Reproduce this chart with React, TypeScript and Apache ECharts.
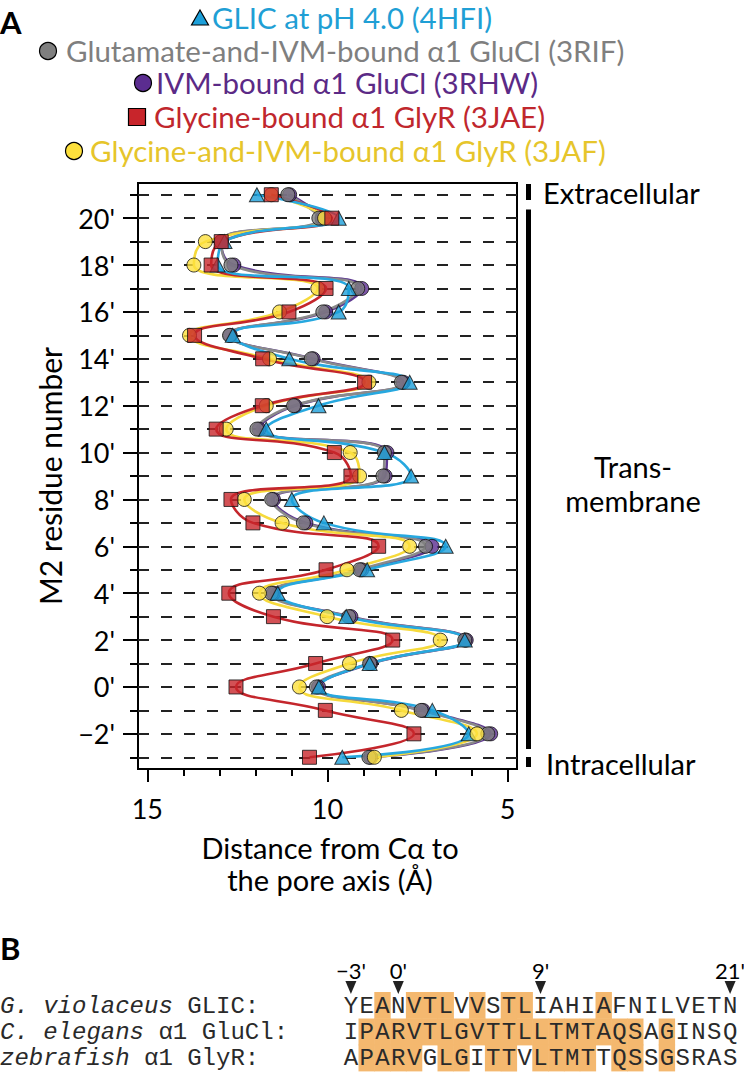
import React, { useEffect, useRef } from 'react';
import * as echarts from 'echarts';

// ---------- data ----------
const residues = [-3, -2, -1, 0, 1, 2, 3, 4, 5, 6, 7, 8, 9, 10, 11, 12, 13, 14, 15, 16, 17, 18, 19, 20, 21];
// distance from C-alpha to pore axis (Å), residue order -3' .. 21'
const glic4HFI = [9.59, 6.08, 7.09, 10.24, 8.83, 6.19, 9.48, 11.38, 8.9, 6.72, 10.1, 10.99, 7.68, 8.42, 11.7, 10.25, 7.72, 11.06, 12.63, 9.69, 9.41, 13.05, 12.86, 9.69, 11.96];
const glucl3RIF = [8.85, 5.55, 7.4, 10.31, 8.83, 6.19, 9.41, 11.56, 9.11, 7.28, 10.67, 11.55, 8.46, 8.42, 11.96, 10.94, 7.95, 10.45, 12.72, 10.13, 9.16, 12.68, 12.95, 10.24, 11.1];
const glucl3RHW = [8.8, 5.47, 7.35, 10.25, 8.8, 6.15, 9.35, 11.5, 9.05, 7.1, 10.6, 11.5, 8.4, 8.35, 11.9, 10.9, 7.9, 10.4, 12.7, 10.05, 9.05, 12.6, 12.95, 10.15, 11.05];
const glyr3JAE = [10.5, 7.6, 10.06, 12.54, 10.33, 8.19, 11.5, 12.74, 10.04, 8.58, 12.07, 12.68, 9.35, 9.81, 13.09, 11.81, 8.97, 11.8, 13.69, 11.07, 10.04, 13.23, 12.95, 9.88, 11.56];
const glyr3JAF = [8.7, 5.85, 7.95, 10.78, 9.39, 6.87, 10.01, 11.89, 9.46, 7.72, 11.26, 12.31, 9.11, 9.37, 12.81, 11.7, 8.85, 11.61, 13.83, 11.33, 10.27, 13.71, 13.39, 10.08, 11.56];

const xMajorTicks = [5, 10, 15];
const xMinorTicks = [5, 6, 7, 8, 9, 10, 11, 12, 13, 14, 15];
const yLabelTicks = [-2, 0, 2, 4, 6, 8, 10, 12, 14, 16, 18, 20];

// panel B
const seqNames = [
  { italic: 'G. violaceus', rest: ' GLIC:' },
  { italic: 'C. elegans', rest: ' \u03b11 GluCl:' },
  { italic: 'zebrafish', rest: ' \u03b11 GlyR:' },
];
const sequences = ['YEANVTLVVSTLIAHIAFNILVETN', 'IPARVTLGVTTLLTMTAQSAGINSQ', 'APARVGLGITTVLTMTTQSSGSRAS'];
const highlighted = [
  [2, 4, 5, 6, 8, 10, 11, 16],
  [1, 2, 3, 4, 5, 6, 7, 8, 9, 10, 11, 12, 13, 14, 15, 16, 17, 18, 20],
  [1, 2, 3, 4, 6, 7, 9, 10, 12, 13, 14, 15, 17, 18, 20],
];
const markerLabels = ['\u22123\'', '0\'', '9\'', '21\''];
const markerIndex = [0, 3, 12, 24];

// ---------- styling ----------
const SANS = 'Lato, "Open Sans", sans-serif';
const MONO = '"Liberation Mono", "DejaVu Sans Mono", monospace';

type Def = { name: string; values: number[]; symbol: string; fill: string; line: string; text: string };
const defs: Record<string, Def> = {
  glic: { name: 'GLIC at pH 4.0 (4HFI)', values: glic4HFI, symbol: 'triangle', fill: '#1c9fd9', line: '#27a8df', text: '#1f9fd5' },
  rif: { name: 'Glutamate-and-IVM-bound \u03b11 GluCl (3RIF)', values: glucl3RIF, symbol: 'circle', fill: '#7f7f7f', line: '#8a8a8a', text: '#7f7f7f' },
  rhw: { name: 'IVM-bound \u03b11 GluCl (3RHW)', values: glucl3RHW, symbol: 'circle', fill: '#5b2d90', line: '#5e3891', text: '#5b2a86' },
  jae: { name: 'Glycine-bound \u03b11 GlyR (3JAE)', values: glyr3JAE, symbol: 'rect', fill: '#c8252b', line: '#c4262c', text: '#c0272d' },
  jaf: { name: 'Glycine-and-IVM-bound \u03b11 GlyR (3JAF)', values: glyr3JAF, symbol: 'circle', fill: '#fde03c', line: '#f6da3c', text: '#e6c52b' },
};
const lineOrder = ['rhw', 'rif', 'jaf', 'jae', 'glic'];
const markerOrder = ['rhw', 'rif', 'glic', 'jaf', 'jae'];
const legendOrder = ['glic', 'rif', 'rhw', 'jae', 'jaf'];
const legendRows = [
  { y: 17, mx: 200, tx: 212 },
  { y: 50, mx: 48, tx: 66 },
  { y: 82, mx: 143, tx: 156 },
  { y: 116, mx: 137, tx: 154 },
  { y: 150, mx: 74, tx: 90 },
];

function legendMarker(symbol: string, cx: number, cy: number, fill: string) {
  const s = 17;
  const style = { fill, stroke: '#000', lineWidth: 1.2 };
  if (symbol === 'triangle') {
    return { type: 'polygon', shape: { points: [[cx, cy - 8], [cx + 8.5, cy + 7], [cx - 8.5, cy + 7]] }, style };
  }
  if (symbol === 'rect') {
    return { type: 'rect', shape: { x: cx - s / 2, y: cy - s / 2, width: s, height: s }, style };
  }
  return { type: 'circle', shape: { cx, cy, r: s / 2 }, style };
}

function buildOption() {
  const series: any[] = [];
  lineOrder.forEach((k, idx) => {
    const d = defs[k];
    const s: any = {
      type: 'line',
      name: d.name + ' line',
      data: residues.map((r, i) => [d.values[i], r]),
      smooth: 0.5,
      showSymbol: false,
      silent: true,
      lineStyle: { color: d.line, width: 2.6 },
      z: 2,
    };
    if (idx === 0) {
      s.markLine = {
        silent: true,
        symbol: ['none', 'none'],
        label: { show: false },
        lineStyle: { type: [11, 12], color: '#222', width: 1.8 },
        data: residues.map((r) => ({ yAxis: r })),
        z: 1,
      };
    }
    series.push(s);
  });
  markerOrder.forEach((k) => {
    const d = defs[k];
    series.push({
      type: 'scatter',
      name: d.name,
      data: residues.map((r, i) => [d.values[i], r]),
      symbol: d.symbol,
      symbolSize: d.symbol === 'triangle' ? [15, 14] : 14,
      itemStyle: { color: d.fill, borderColor: '#111', borderWidth: 1 },
      z: 3,
    });
  });

  const graphic: any[] = [];
  // panel letters
  graphic.push({ type: 'text', x: 0, y: 22, style: { text: 'A', font: `bold 31px ${SANS}`, fill: '#000', textVerticalAlign: 'middle' } });
  graphic.push({ type: 'text', x: 0, y: 948, style: { text: 'B', font: `bold 31px ${SANS}`, fill: '#000', textVerticalAlign: 'middle' } });

  // legend
  legendOrder.forEach((k, i) => {
    const d = defs[k];
    const row = legendRows[i];
    graphic.push(legendMarker(d.symbol, row.mx, row.y + 1, d.fill));
    graphic.push({ type: 'text', x: row.tx, y: row.y, style: { text: d.name, font: `29.5px ${SANS}`, fill: d.text, textVerticalAlign: 'middle', textAlign: 'left' } });
  });

  // axis titles
  graphic.push({ type: 'text', x: 50, y: 476, rotation: Math.PI / 2, style: { text: 'M2 residue number', font: `30px ${SANS}`, fill: '#000', textAlign: 'center', textVerticalAlign: 'middle' } });
  graphic.push({ type: 'text', x: 330, y: 847, style: { text: 'Distance from C\u03b1 to', font: `29px ${SANS}`, fill: '#000', textAlign: 'center', textVerticalAlign: 'middle' } });
  graphic.push({ type: 'text', x: 330, y: 879, style: { text: 'the pore axis (\u00c5)', font: `29px ${SANS}`, fill: '#000', textAlign: 'center', textVerticalAlign: 'middle' } });

  // membrane annotation
  graphic.push({ type: 'rect', shape: { x: 526, y: 184, width: 5, height: 16 }, style: { fill: '#000' } });
  graphic.push({ type: 'rect', shape: { x: 526, y: 209.5, width: 5, height: 539.5 }, style: { fill: '#000' } });
  graphic.push({ type: 'rect', shape: { x: 526, y: 757, width: 5, height: 10 }, style: { fill: '#000' } });
  graphic.push({ type: 'text', x: 543, y: 192, style: { text: 'Extracellular', font: `29px ${SANS}`, fill: '#000', textVerticalAlign: 'middle' } });
  graphic.push({ type: 'text', x: 633, y: 466, style: { text: 'Trans-', font: `29px ${SANS}`, fill: '#000', textAlign: 'center', textVerticalAlign: 'middle' } });
  graphic.push({ type: 'text', x: 633, y: 500, style: { text: 'membrane', font: `29px ${SANS}`, fill: '#000', textAlign: 'center', textVerticalAlign: 'middle' } });
  graphic.push({ type: 'text', x: 546, y: 763, style: { text: 'Intracellular', font: `29px ${SANS}`, fill: '#000', textVerticalAlign: 'middle' } });

  // panel B alignment
  const cw = 15.8;
  const seqLeft = 343;
  const rowTop = [992, 1018.5, 1044.5];
  const rowH = 26.5;
  highlighted.forEach((list, r) => {
    list.forEach((ci) => {
      graphic.push({ type: 'rect', shape: { x: seqLeft + ci * cw - 0.3, y: rowTop[r], width: cw + 0.6, height: rowH + 0.4 }, style: { fill: '#f4b86f' } });
    });
  });
  sequences.forEach((seq, r) => {
    const cy = rowTop[r] + rowH / 2 + 1;
    seq.split('').forEach((ch, ci) => {
      graphic.push({ type: 'text', x: seqLeft + ci * cw + cw / 2, y: cy, style: { text: ch, font: `24px ${MONO}`, fill: '#2a2a2a', textAlign: 'center', textVerticalAlign: 'middle' } });
    });
    const nm = seqNames[r];
    graphic.push({
      type: 'text', x: 0, y: cy,
      style: {
        text: `{i|${nm.italic}}{n|${nm.rest}}`,
        textVerticalAlign: 'middle',
        rich: {
          i: { fontStyle: 'italic', fontFamily: MONO, fontSize: 24, fill: '#2a2a2a' },
          n: { fontFamily: MONO, fontSize: 24, fill: '#2a2a2a' },
        },
      },
    });
  });
  markerIndex.forEach((ci, j) => {
    const cx = seqLeft + ci * cw + cw / 2;
    graphic.push({ type: 'text', x: cx, y: 970, style: { text: markerLabels[j], font: `22px ${SANS}`, fill: '#000', textAlign: 'center', textVerticalAlign: 'middle' } });
    graphic.push({ type: 'polygon', shape: { points: [[cx - 5.5, 981], [cx + 5.5, 981], [cx, 994]] }, style: { fill: '#222' } });
  });

  const tickStyle = { color: '#000', width: 2 };
  const yFmt = (v: number) => (v < 0 ? '\u2212' + Math.abs(v) : String(v)) + "'";
  const noLine = { show: false, onZero: false };

  return {
    animation: false,
    backgroundColor: '#ffffff',
    grid: { left: 138, top: 183, width: 379, height: 586, show: true, borderColor: '#000', borderWidth: 2, backgroundColor: 'transparent' },
    xAxis: [
      {
        type: 'value', min: 4.74, max: 15.26, inverse: true, position: 'bottom',
        axisLine: noLine, splitLine: { show: false },
        axisTick: { show: true, customValues: xMajorTicks, length: 13, lineStyle: tickStyle },
        axisLabel: { show: true, customValues: xMajorTicks, fontSize: 27, fontFamily: SANS, color: '#000', margin: 26 },
      },
      {
        type: 'value', min: 4.74, max: 15.26, inverse: true, position: 'bottom',
        axisLine: noLine, splitLine: { show: false },
        axisTick: { show: true, customValues: xMinorTicks, length: 7, lineStyle: tickStyle },
        axisLabel: { show: false },
      },
    ],
    yAxis: [
      {
        type: 'value', min: -3.5, max: 21.5, position: 'left',
        axisLine: noLine, splitLine: { show: false },
        axisTick: { show: true, customValues: yLabelTicks, length: 15, lineStyle: tickStyle },
        axisLabel: { show: true, customValues: yLabelTicks, formatter: yFmt, fontSize: 27, fontFamily: SANS, color: '#000', margin: 23 },
      },
      {
        type: 'value', min: -3.5, max: 21.5, position: 'left',
        axisLine: noLine, splitLine: { show: false },
        axisTick: { show: true, customValues: residues, length: 8, lineStyle: tickStyle },
        axisLabel: { show: false },
      },
    ],
    series,
    graphic,
  };
}

export default function App() {
  const ref = useRef<HTMLDivElement>(null);
  useEffect(() => {
    if (!ref.current) return;
    const chart = echarts.init(ref.current, null, { renderer: 'svg' });
    chart.setOption(buildOption() as any);
    return () => chart.dispose();
  }, []);
  return (
    <div
      ref={ref}
      style={{ position: 'absolute', left: 0, top: 0, width: 744, height: 1073, background: '#fff' }}
    />
  );
}
